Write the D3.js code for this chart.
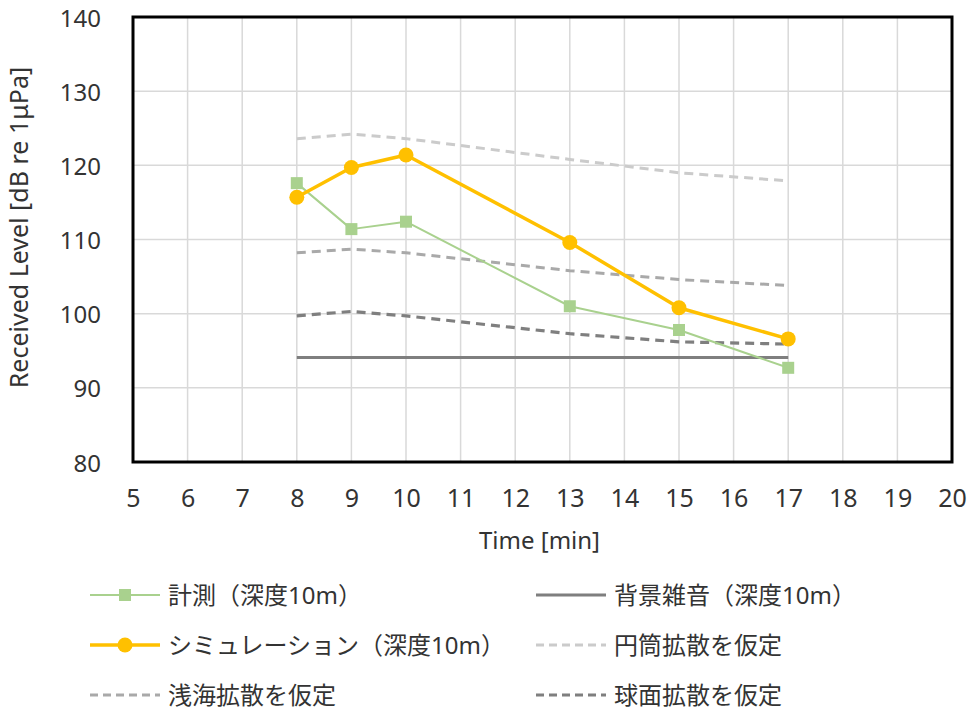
<!DOCTYPE html>
<html><head><meta charset="utf-8">
<script src="https://cdn.jsdelivr.net/npm/d3@7"></script>
<style>body{margin:0;background:#fff}svg{display:block}</style>
</head><body>
<svg id="c" width="970" height="716"></svg>
<script>
const times = [8, 9, 10, 13, 15, 17];
const measured = [117.6, 111.4, 112.4, 101.0, 97.8, 92.7];
const simulation = [115.7, 119.7, 121.4, 109.6, 100.8, 96.6];
const background = [94.1, 94.1, 94.1, 94.1, 94.1, 94.1];
const cylindrical = [123.6, 124.2, 123.6, 120.8, 119.0, 117.9];
const shallow = [108.2, 108.7, 108.2, 105.8, 104.6, 103.8];
const spherical = [99.7, 100.3, 99.7, 97.3, 96.2, 95.9];
const xTicks = d3.range(5, 21, 1);
const yTicks = [80, 90, 100, 110, 120, 130, 140];
const labels = {
  measured: "計測（深度10m）",
  simulation: "シミュレーション（深度10m）",
  shallow: "浅海拡散を仮定",
  background: "背景雑音（深度10m）",
  cylindrical: "円筒拡散を仮定",
  spherical: "球面拡散を仮定"
};

const svg = d3.select("#c");
const L = 133, R = 952, T = 17, B = 462;
const x = d3.scaleLinear().domain([5, 20]).range([L, R]);
const y = d3.scaleLinear().domain([80, 140]).range([B, T]);
const font = "'Noto Sans','Noto Sans CJK JP',sans-serif";

// gridlines
const g = svg.append("g");
g.selectAll(".vx").data(xTicks).join("line")
  .attr("x1", d => x(d)).attr("x2", d => x(d)).attr("y1", T).attr("y2", B)
  .attr("stroke", "#d9d9d9").attr("stroke-width", 1.5);
g.selectAll(".hy").data(yTicks).join("line")
  .attr("x1", L).attr("x2", R).attr("y1", d => y(d)).attr("y2", d => y(d))
  .attr("stroke", "#d9d9d9").attr("stroke-width", 1.5);

// axes labels via d3 axes
const xAxis = svg.append("g").attr("transform", `translate(0,${B})`)
  .call(d3.axisBottom(x).tickValues(xTicks).tickSize(0).tickPadding(27));
xAxis.select(".domain").remove();
xAxis.selectAll("text").attr("font-family", font).attr("font-size", 25).attr("fill", "#333");
const yAxis = svg.append("g").attr("transform", `translate(${L},0)`)
  .call(d3.axisLeft(y).tickValues(yTicks).tickSize(0).tickPadding(32));
yAxis.select(".domain").remove();
yAxis.selectAll("text").attr("font-family", font).attr("font-size", 24).attr("dy", "0.38em").attr("fill", "#333");

svg.append("text").attr("x", (L + R) / 2 - 3).attr("y", 549).attr("text-anchor", "middle")
  .attr("font-family", font).attr("font-size", 24).attr("fill", "#333").text("Time [min]");
svg.append("text").attr("transform", `translate(28,${(T + B) / 2 - 12}) rotate(-90)`)
  .attr("text-anchor", "middle").attr("font-family", font).attr("font-size", 25).attr("fill", "#333")
  .text("Received Level [dB re 1μPa]");

const line = d3.line().x(d => x(d[0])).y(d => y(d[1]));
const zipped = arr => times.map((t, i) => [t, arr[i]]);

const styles = {
  cylindrical: {color: "#cbcbcb", w: 3, dash: "9,6"},
  shallow: {color: "#a9a9a9", w: 3, dash: "9,6"},
  spherical: {color: "#7f7f7f", w: 3.2, dash: "9,6"},
  background: {color: "#7f7f7f", w: 3, dash: null},
  measured: {color: "#a9d18e", w: 2, dash: null},
  simulation: {color: "#ffc000", w: 3.5, dash: null}
};
const series = {cylindrical, shallow, spherical, background, measured, simulation};

["cylindrical", "shallow", "spherical", "background", "measured", "simulation"].forEach(k => {
  const s = styles[k];
  svg.append("path").datum(zipped(series[k])).attr("d", line)
    .attr("fill", "none").attr("stroke", s.color).attr("stroke-width", s.w)
    .attr("stroke-dasharray", s.dash).attr("stroke-linejoin", "round");
});
svg.append("g").selectAll("rect").data(zipped(measured)).join("rect")
  .attr("x", d => x(d[0]) - 6).attr("y", d => y(d[1]) - 6).attr("width", 12).attr("height", 12)
  .attr("fill", "#a9d18e");
svg.append("g").selectAll("circle").data(zipped(simulation)).join("circle")
  .attr("cx", d => x(d[0])).attr("cy", d => y(d[1])).attr("r", 7.5).attr("fill", "#ffc000");

// frame
svg.append("rect").attr("x", L).attr("y", T).attr("width", R - L).attr("height", B - T)
  .attr("fill", "none").attr("stroke", "#000").attr("stroke-width", 3);

// legend
const legendItems = [
  {k: "measured", col: 0, row: 0, marker: "square"},
  {k: "simulation", col: 0, row: 1, marker: "circle"},
  {k: "shallow", col: 0, row: 2},
  {k: "background", col: 1, row: 0},
  {k: "cylindrical", col: 1, row: 1},
  {k: "spherical", col: 1, row: 2}
];
const lg = svg.append("g");
legendItems.forEach(it => {
  const s = styles[it.k];
  const x0 = it.col === 0 ? 90 : 536;
  const yy = 595 + it.row * 50;
  lg.append("line").attr("x1", x0).attr("x2", x0 + 70).attr("y1", yy).attr("y2", yy)
    .attr("stroke", s.color).attr("stroke-width", s.w).attr("stroke-dasharray", s.dash ? "8,5" : null);
  if (it.marker === "square") lg.append("rect").attr("x", x0 + 29).attr("y", yy - 6).attr("width", 12).attr("height", 12).attr("fill", s.color);
  if (it.marker === "circle") lg.append("circle").attr("cx", x0 + 35).attr("cy", yy).attr("r", 7.5).attr("fill", s.color);
  lg.append("text").attr("x", x0 + 78).attr("y", yy).attr("dy", "0.36em")
    .attr("font-family", font).attr("font-size", 24).attr("fill", "#333").text(labels[it.k]);
});
</script>
</body></html>
